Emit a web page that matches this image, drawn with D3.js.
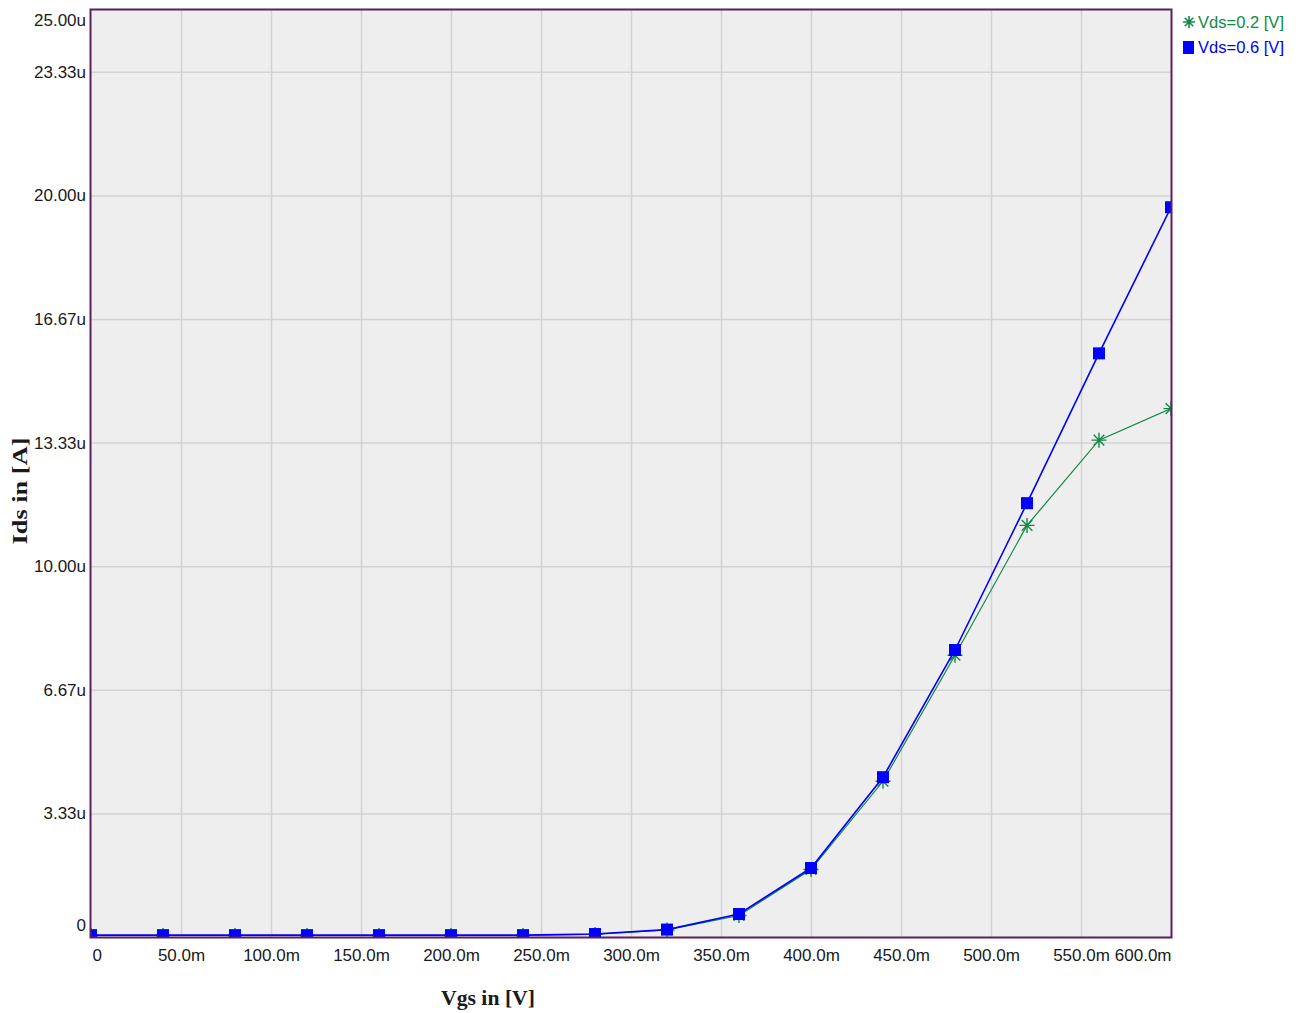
<!DOCTYPE html>
<html>
<head>
<meta charset="utf-8">
<script src="https://cdn.jsdelivr.net/npm/d3@7"></script>
<style>
  html, body { margin: 0; padding: 0; background: #ffffff; }
  svg { display: block; }
</style>
</head>
<body>
<script>
// Gate voltage sweep (V)
const vgs = [0, 0.04, 0.08, 0.12, 0.16, 0.20, 0.24, 0.28, 0.32, 0.36, 0.40, 0.44, 0.48, 0.52, 0.56, 0.60];
// Drain current (A) for each drain-source bias
const idsVds02 = [0.04e-6, 0.04e-6, 0.04e-6, 0.04e-6, 0.04e-6, 0.04e-6, 0.04e-6, 0.07e-6, 0.19e-6, 0.58e-6, 1.82e-6, 4.20e-6, 7.60e-6, 11.10e-6, 13.40e-6, 14.25e-6];
const idsVds06 = [0.05e-6, 0.05e-6, 0.05e-6, 0.05e-6, 0.05e-6, 0.05e-6, 0.05e-6, 0.08e-6, 0.20e-6, 0.62e-6, 1.86e-6, 4.31e-6, 7.74e-6, 11.70e-6, 15.74e-6, 19.68e-6];
const seriesNames = ["Vds=0.2 [V]", "Vds=0.6 [V]"];

const xTickValues = [0, 0.05, 0.10, 0.15, 0.20, 0.25, 0.30, 0.35, 0.40, 0.45, 0.50, 0.55, 0.60];
const xTickLabels = ["0", "50.0m", "100.0m", "150.0m", "200.0m", "250.0m", "300.0m", "350.0m", "400.0m", "450.0m", "500.0m", "550.0m", "600.0m"];
const yTickValues = [0, 10e-6 / 3, 20e-6 / 3, 10e-6, 40e-6 / 3, 50e-6 / 3, 20e-6, 70e-6 / 3, 25e-6];
const yTickLabels = ["0", "3.33u", "6.67u", "10.00u", "13.33u", "16.67u", "20.00u", "23.33u", "25.00u"];

const W = 1301, H = 1013;
const plot = { left: 91, right: 1171, top: 10, bottom: 937 };

const green = "#118a45";
const blue = "#0000ff";
const frame = "#5e1f5e";
const grid = "#d3d3d3";
const tickFont = "'Liberation Sans', Arial, sans-serif";

const svg = d3.select("body").append("svg").attr("width", W).attr("height", H);

const x = d3.scaleLinear().domain([0, 0.6]).range([plot.left, plot.right]);
const y = d3.scaleLinear().domain([0, 25e-6]).range([plot.bottom, plot.top]);

// plot background
svg.append("rect")
  .attr("x", plot.left).attr("y", plot.top)
  .attr("width", plot.right - plot.left).attr("height", plot.bottom - plot.top)
  .attr("fill", "#eeeeee");

// grid lines
const gx = d3.axisBottom(x).tickValues(xTickValues.slice(1, -1))
  .tickSize(-(plot.bottom - plot.top)).tickFormat("");
svg.append("g").attr("transform", `translate(0,${plot.bottom})`).call(gx)
  .call(g => g.select(".domain").remove())
  .call(g => g.selectAll("line").attr("stroke", grid).attr("stroke-width", 1.5));

const gy = d3.axisLeft(y).tickValues(yTickValues.slice(1, -1))
  .tickSize(-(plot.right - plot.left)).tickFormat("");
svg.append("g").attr("transform", `translate(${plot.left},0)`).call(gy)
  .call(g => g.select(".domain").remove())
  .call(g => g.selectAll("line").attr("stroke", grid).attr("stroke-width", 1.5));

// clip for data marks
svg.append("clipPath").attr("id", "plotClip").append("rect")
  .attr("x", plot.left).attr("y", plot.top)
  .attr("width", plot.right - plot.left).attr("height", plot.bottom - plot.top);

const data = [
  { name: seriesNames[0], color: green, width: 1.2, values: idsVds02, marker: "star" },
  { name: seriesNames[1], color: blue, width: 1.6, values: idsVds06, marker: "square" }
];

const line = d3.line().x(d => x(d[0])).y(d => y(d[1]));
const marks = svg.append("g").attr("clip-path", "url(#plotClip)");

function starPath(s) {
  // eight-armed asterisk
  const r = s / 2, d = r * Math.SQRT1_2;
  return `M${-r},0L${r},0M0,${-r}L0,${r}M${-d},${-d}L${d},${d}M${-d},${d}L${d},${-d}`;
}

data.forEach(sr => {
  const pts = vgs.map((v, i) => [v, sr.values[i]]);
  marks.append("path").datum(pts)
    .attr("fill", "none").attr("stroke", sr.color).attr("stroke-width", sr.width)
    .attr("d", line);
  const g = marks.append("g");
  pts.forEach(p => {
    if (sr.marker === "star") {
      g.append("path")
        .attr("transform", `translate(${x(p[0])},${y(p[1])})`)
        .attr("d", starPath(15))
        .attr("stroke", sr.color).attr("stroke-width", 1.4).attr("fill", "none");
    } else {
      g.append("rect")
        .attr("x", x(p[0]) - 6).attr("y", y(p[1]) - 6)
        .attr("width", 12).attr("height", 12)
        .attr("fill", sr.color);
    }
  });
});

// frame
svg.append("rect")
  .attr("x", plot.left - 0.5).attr("y", plot.top - 0.5)
  .attr("width", plot.right - plot.left + 1).attr("height", plot.bottom - plot.top + 1)
  .attr("fill", "none").attr("stroke", frame).attr("stroke-width", 2);

// x tick labels
const xAxis = d3.axisBottom(x).tickValues(xTickValues)
  .tickSize(0).tickPadding(12)
  .tickFormat((d, i) => xTickLabels[i]);
svg.append("g").attr("transform", `translate(0,${plot.bottom})`).call(xAxis)
  .call(g => g.select(".domain").remove())
  .call(g => g.selectAll("text")
    .attr("font-family", tickFont).attr("font-size", 17)
    .attr("fill", "#1a1a1a")
    .attr("text-anchor", (d, i) => i === 0 ? "start" : (i === xTickValues.length - 1 ? "end" : "middle"))
    .attr("dx", (d, i) => i === 0 ? 1 : 0));

// y tick labels
const yAxis = d3.axisLeft(y).tickValues(yTickValues)
  .tickSize(0).tickPadding(5)
  .tickFormat((d, i) => yTickLabels[i]);
svg.append("g").attr("transform", `translate(${plot.left},0)`).call(yAxis)
  .call(g => g.select(".domain").remove())
  .call(g => g.selectAll("text")
    .attr("font-family", tickFont).attr("font-size", 17)
    .attr("fill", "#1a1a1a")
    .attr("dy", (d, i) => i === 0 ? "-0.4em" : (i === yTickValues.length - 1 ? "0.9em" : "0.32em")));

// axis titles
svg.append("text")
  .attr("x", 488).attr("y", 1005)
  .attr("text-anchor", "middle")
  .attr("font-family", "'Liberation Serif', 'Times New Roman', serif")
  .attr("font-weight", "bold").attr("font-size", 21)
  .attr("textLength", 94).attr("lengthAdjust", "spacingAndGlyphs")
  .attr("fill", "#1a1a1a")
  .text("Vgs in [V]");

svg.append("text")
  .attr("transform", "translate(27,491) rotate(-90)")
  .attr("text-anchor", "middle")
  .attr("font-family", "'Liberation Serif', 'Times New Roman', serif")
  .attr("font-weight", "bold").attr("font-size", 21)
  .attr("textLength", 107).attr("lengthAdjust", "spacingAndGlyphs")
  .attr("fill", "#1a1a1a")
  .text("Ids in [A]");

// legend
const legend = svg.append("g");
data.forEach((sr, i) => {
  const ly = 22 + i * 25;
  if (sr.marker === "star") {
    legend.append("path")
      .attr("transform", `translate(1189,${ly})`)
      .attr("d", starPath(12))
      .attr("stroke", sr.color).attr("stroke-width", 1.6).attr("fill", "none");
  } else {
    legend.append("rect")
      .attr("x", 1183).attr("y", ly - 6).attr("width", 11).attr("height", 13)
      .attr("fill", sr.color);
  }
  legend.append("text")
    .attr("x", 1198).attr("y", ly).attr("dy", "0.35em")
    .attr("font-family", tickFont).attr("font-size", 17)
    .attr("textLength", 86).attr("lengthAdjust", "spacingAndGlyphs")
    .attr("fill", sr.color)
    .text(sr.name);
});
</script>
</body>
</html>
